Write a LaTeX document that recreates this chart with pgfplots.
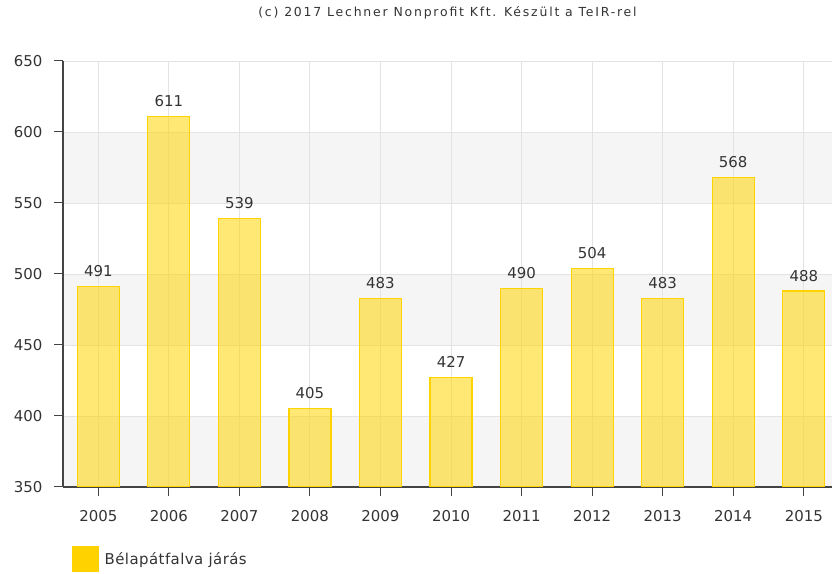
\documentclass[border=0pt]{standalone}
\usepackage{pgfplots}
\pgfplotsset{compat=1.18}
\usepackage{fontspec}
\setmainfont{DejaVu Sans}
\newfontfamily\titlefont[LetterSpace=14.5]{DejaVu Sans}
\newfontfamily\legfont[LetterSpace=3]{DejaVu Sans}
\definecolor{bandgray}{HTML}{F5F5F5}
\definecolor{gridgray}{HTML}{E3E3E3}
\definecolor{barfill}{HTML}{FFD500}
\definecolor{barline}{HTML}{FFD200}
\definecolor{txt}{HTML}{333333}
\definecolor{axisdark}{HTML}{444444}
\begin{document}
\begin{tikzpicture}
\begin{axis}[
  set layers,
  at={(63bp,87bp)}, anchor=south west,
  scale only axis, width=769bp, height=426bp,
  xmin=-0.5, xmax=10.4, ymin=350, ymax=650,
  ytick={350,400,...,650},
  xtick={0,...,10},
  xticklabels={2005,2006,2007,2008,2009,2010,2011,2012,2013,2014,2015},
  axis x line*=bottom, axis y line*=left,
  axis line style={axisdark, line width=1.2bp, -},
  tick align=outside, major tick length=9bp,
  tick style={axisdark, line width=1bp},
  xmajorgrids, ymajorgrids,
  grid style={gridgray, line width=0.9bp},
  /pgf/number format/assume math mode=true,
  ticklabel style={font=\fontsize{15}{18}\selectfont, text=txt},
  yticklabel style={xshift=-8bp},
  xticklabel style={yshift=-11bp},
  title={\titlefont (c) 2017 Lechner Nonprofit Kft. Készült a TeIR-rel},
  title style={at={(0.5,1)}, anchor=base, yshift=39bp, font=\fontsize{12.5}{15}\selectfont, text=txt},
  legend style={at={(0.012,-0.138)}, anchor=north west, draw=none, fill=none, inner sep=0pt,
    font=\fontsize{15}{18}\selectfont, text=txt},
  legend cell align=left,
]
\addplot[on layer=axis background, draw=none, fill=bandgray, forget plot]
  coordinates {(-0.5,350) (10.4,350) (10.4,400) (-0.5,400)} -- cycle;
\addplot[on layer=axis background, draw=none, fill=bandgray, forget plot]
  coordinates {(-0.5,450) (10.4,450) (10.4,500) (-0.5,500)} -- cycle;
\addplot[on layer=axis background, draw=none, fill=bandgray, forget plot]
  coordinates {(-0.5,550) (10.4,550) (10.4,600) (-0.5,600)} -- cycle;
\addplot[ybar, bar width=42bp, fill=barfill, fill opacity=0.55, draw=barline, line width=1.2bp,
  nodes near coords,
  nodes near coords style={anchor=base, yshift=10bp, font=\fontsize{15}{18}\selectfont, text=txt, text opacity=1},
  legend image code/.code={\fill[barline, fill opacity=1] (0bp,-12.5bp) rectangle (25bp,12.5bp);}]
  coordinates {(0,491) (1,611) (2,539) (3,405) (4,483) (5,427) (6,490) (7,504) (8,483) (9,568) (10,488)};
\addlegendentry{\legfont\hspace{4bp}Bélapátfalva járás}
\end{axis}
\pgfresetboundingbox
\useasboundingbox (0bp,0bp) rectangle (832bp,574bp);
\end{tikzpicture}
\end{document}
